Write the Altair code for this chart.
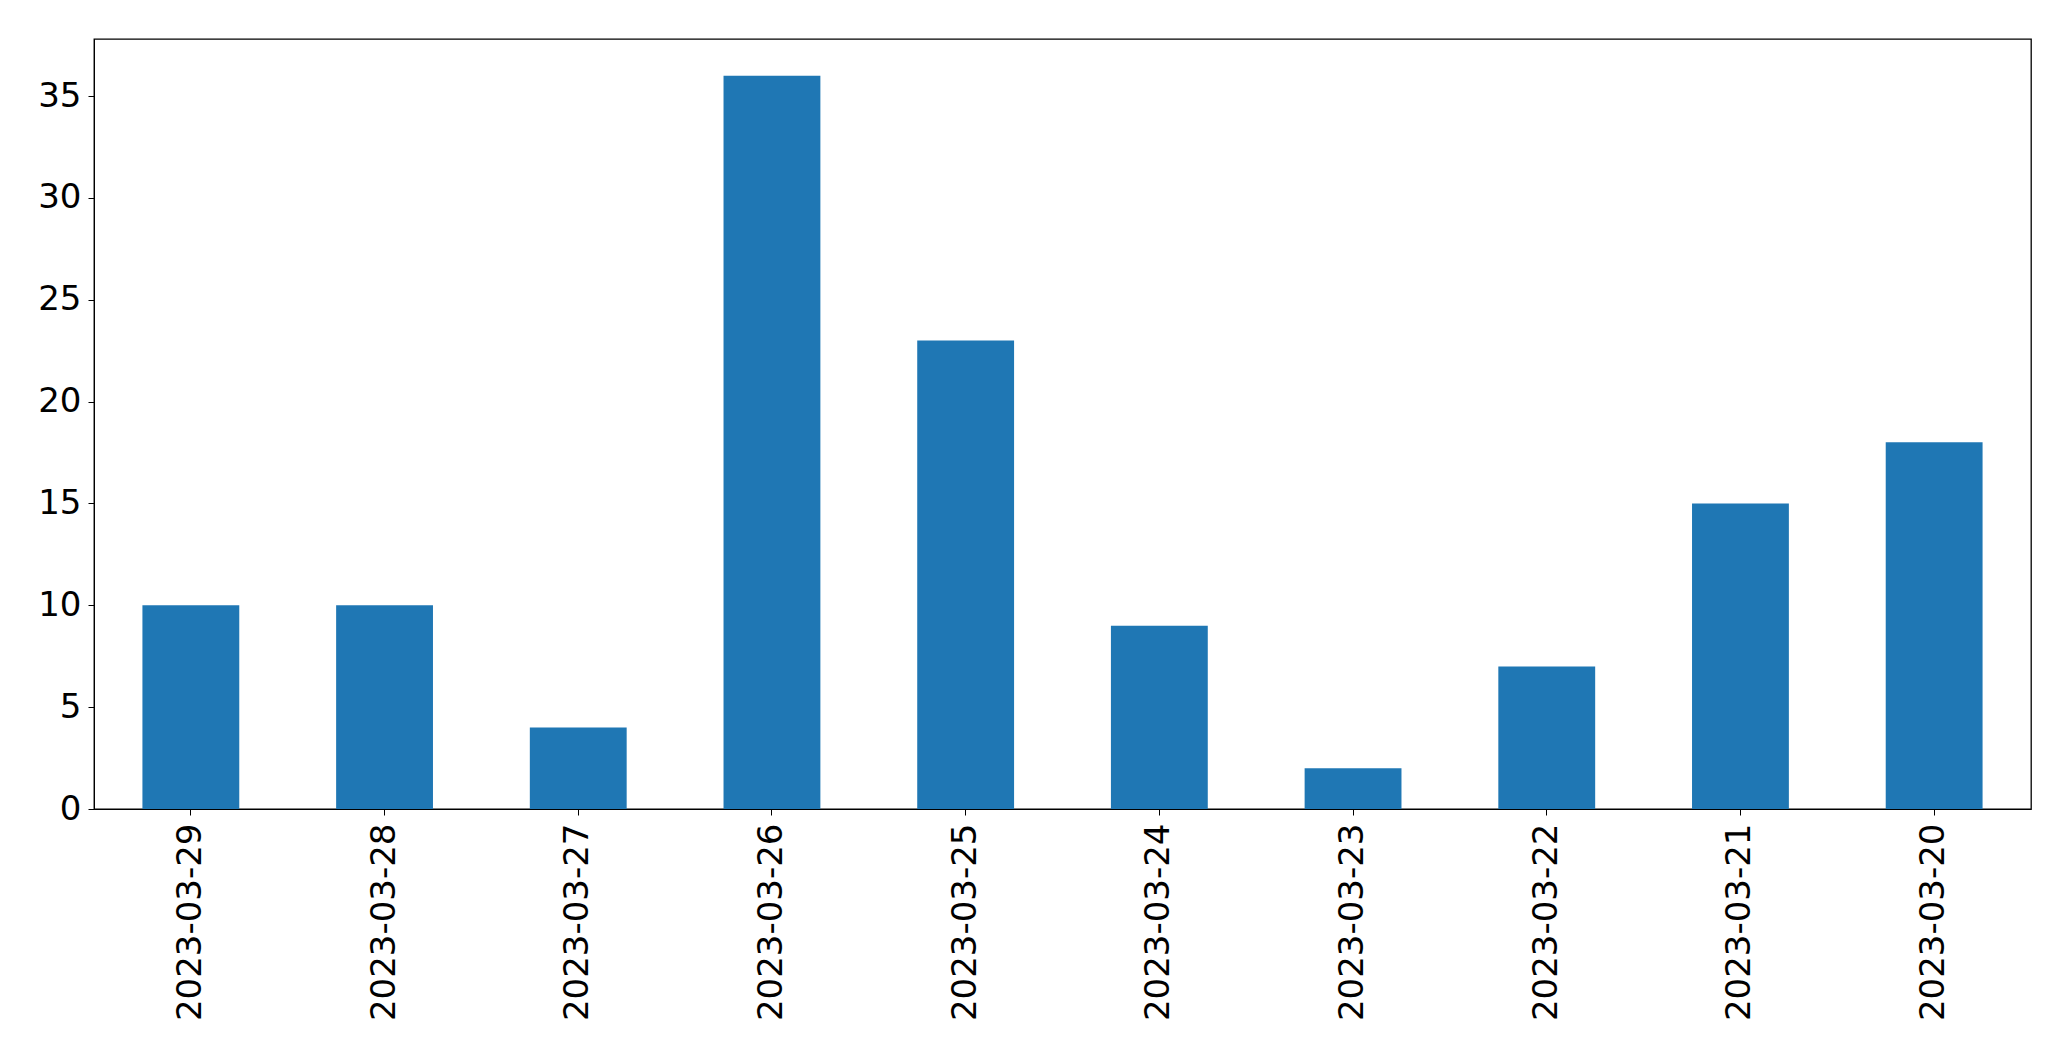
import altair as alt
import pandas as pd

dates = ["2023-03-29", "2023-03-28", "2023-03-27", "2023-03-26", "2023-03-25",
         "2023-03-24", "2023-03-23", "2023-03-22", "2023-03-21", "2023-03-20"]
counts = [10, 10, 4, 36, 23, 9, 2, 7, 15, 18]
y_ticks = [0, 5, 10, 15, 20, 25, 30, 35]

df = pd.DataFrame({"date": dates, "count": counts})

chart = alt.Chart(df).mark_bar(color="#1f77b4").encode(
    x=alt.X("date:N", sort=None, title=None,
            scale=alt.Scale(paddingInner=0.5, paddingOuter=0.25),
            axis=alt.Axis(labelAngle=270, labelAlign="right", labelBaseline="middle",
                          labelFont="DejaVu Sans", labelFontSize=34, labelColor="black",
                          labelLimit=0, tickColor="black", tickSize=6, labelPadding=8,
                          domainColor="black", grid=False)),
    y=alt.Y("count:Q", title=None,
            scale=alt.Scale(domain=[0, 37.8], nice=False, zero=True),
            axis=alt.Axis(values=y_ticks, labelFont="DejaVu Sans", labelFontSize=34,
                          labelColor="black", tickColor="black", tickSize=6,
                          labelLimit=0, labelPadding=7, domainColor="black", grid=False)),
).properties(
    width=1937, height=770,
    autosize=alt.AutoSizeParams(type="none"),
    padding={"left": 86, "top": 31, "right": 30, "bottom": 230},
).configure_view(stroke="black", strokeWidth=1.3)

chart.save("out.html", embed_options={"renderer": "svg", "actions": False})
